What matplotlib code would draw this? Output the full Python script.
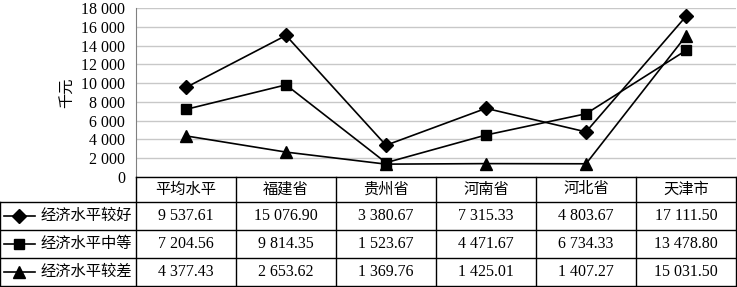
import numpy as np
import matplotlib
matplotlib.use('Agg')
import matplotlib.pyplot as plt

plt.rcParams['font.family'] = ['Liberation Serif', 'Noto Sans CJK SC', 'DejaVu Sans']

regions = ['平均水平', '福建省', '贵州省', '河南省', '河北省', '天津市']
series_names = ['经济水平较好', '经济水平中等', '经济水平较差']
good = [9537.61, 15076.90, 3380.67, 7315.33, 4803.67, 17111.50]
medium = [7204.56, 9814.35, 1523.67, 4471.67, 6734.33, 13478.80]
poor = [4377.43, 2653.62, 1369.76, 1425.01, 1407.27, 15031.50]
y_ticks = [0, 2000, 4000, 6000, 8000, 10000, 12000, 14000, 16000, 18000]

series = [good, medium, poor]
markers = ['D', 's', '^']
msizes = [7, 7, 8.5]

W, H = 737, 287
fig = plt.figure(figsize=(W / 100, H / 100), dpi=100)

def fmt(v):
    return '{:,.0f}'.format(v).replace(',', ' ')

# line chart
ax = fig.add_axes([136 / W, (H - 177) / H, 600 / W, 169 / H])
x = np.arange(len(regions))
for vals, m, ms in zip(series, markers, msizes):
    ax.plot(x, vals, color='black', lw=1.2, marker=m, ms=ms,
            markerfacecolor='black', markeredgecolor='black')
ax.set_xlim(-0.5, len(regions) - 0.5)
ax.set_ylim(0, 18000)
ax.set_yticks(y_ticks)
ax.set_yticklabels([fmt(t) for t in y_ticks], fontsize=11.5)
ax.set_xticks([])
ax.grid(axis='y', color='#c8c8c8', lw=1)
ax.set_axisbelow(True)
for s in ['top', 'right', 'bottom']:
    ax.spines[s].set_visible(False)
ax.spines['left'].set_color('#808080')
ax.tick_params(axis='y', length=0, pad=8)
ax.set_ylabel('千元', fontsize=11, labelpad=4)

# data table, in pixel units vertically (0 = bottom of figure)
tb = fig.add_axes([0, 0, 737 / W, 110 / H])
tb.set_xlim(-0.5 - 1.36, len(regions) - 0.5 + 0.01)
tb.set_ylim(0, 110)
tb.axis('off')
rows_y = [110, 85, 57, 29, 1]  # row boundaries from top
lc = 'black'
lw = 1.0
left = -0.5 - 1.36 + 0.005
right = len(regions) - 0.5
# horizontal lines
tb.plot([-0.5, right], [rows_y[0], rows_y[0]], color=lc, lw=lw, clip_on=False)
for yb in rows_y[1:]:
    tb.plot([left, right], [yb, yb], color=lc, lw=lw, clip_on=False)
# vertical lines
tb.plot([left, left], [rows_y[1], rows_y[-1]], color=lc, lw=lw, clip_on=False)
for i in range(len(regions) + 1):
    tb.plot([i - 0.5, i - 0.5], [rows_y[0], rows_y[-1]], color=lc, lw=lw, clip_on=False)

# header
for i, r in enumerate(regions):
    tb.text(i, (rows_y[0] + rows_y[1]) / 2, r, ha='center', va='center', fontsize=11)
# rows
for j, (name, vals, m, ms) in enumerate(zip(series_names, series, markers, msizes)):
    yc = (rows_y[j + 1] + rows_y[j + 2]) / 2
    tb.plot([left + 0.04, left + 0.34], [yc, yc], color='black', lw=1.2)
    tb.plot([left + 0.19], [yc], marker=m, ms=ms, color='black')
    tb.text(left + 0.40, yc, name, ha='left', va='center', fontsize=11)
    for i, v in enumerate(vals):
        tb.text(i, yc, '{:,.2f}'.format(v).replace(',', ' '),
                ha='center', va='center', fontsize=11.5)

fig.savefig('out.png', dpi=100)
